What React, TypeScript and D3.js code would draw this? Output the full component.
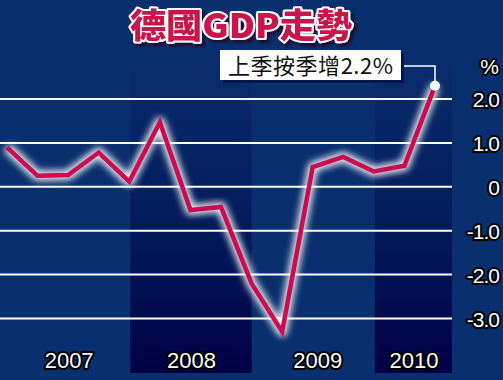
import React from "react";
import * as d3 from "d3";

const quarters = ["2006Q4","2007Q1","2007Q2","2007Q3","2007Q4","2008Q1","2008Q2","2008Q3","2008Q4","2009Q1","2009Q2","2009Q3","2009Q4","2010Q1","2010Q2"];
const growth = [0.9, 0.25, 0.27, 0.78, 0.12, 1.47, -0.53, -0.46, -2.2, -3.3, 0.45, 0.68, 0.35, 0.48, 2.3];
const years = ["2007", "2008", "2009", "2010"];
const yearStart = ["2006Q4", "2007Q4", "2008Q4", "2009Q4"];
const yearEnd = ["2007Q4", "2008Q4", "2009Q4", null];
const shadedYears = ["2008", "2010"];
const yTicks = [2, 1, 0, -1, -2, -3];
const yTickLabels = ["2.0", "1.0", "0", "-1.0", "-2.0", "-3.0"];
const title = "德國GDP走勢";
const note = "上季按季增2.2%";

const W = 503, H = 380;
const plotRight = 452;

export default function App() {
  const x = d3.scalePoint<string>().domain(quarters).range([7, 435]);
  const y = d3.scaleLinear().domain([-3, 2]).range([318.5, 99]);
  const line = d3.line<number>().x((_, i) => x(quarters[i])!).y((d) => y(d));
  const path = line(growth) || "";
  const lastX = x(quarters[quarters.length - 1])!;
  const lastY = y(growth[growth.length - 1]);
  const outline = { paintOrder: "stroke" as const, stroke: "#000", strokeWidth: 4, strokeLinejoin: "round" as const };

  return (
    <svg width={W} height={H} style={{ position: "absolute", left: 0, top: 0 }} fontFamily="'Liberation Sans', Arial, sans-serif">
      <defs>
        <linearGradient id="band" x1="0" y1="0" x2="0" y2="1">
          <stop offset="0" stopColor="#0b2d6c" />
          <stop offset="0.55" stopColor="#021a5a" />
          <stop offset="1" stopColor="#000044" />
        </linearGradient>
        <filter id="glow" x="-10%" y="-10%" width="120%" height="120%">
          <feGaussianBlur stdDeviation="3.5" />
        </filter>
        <filter id="titleShadow" x="-10%" y="-20%" width="130%" height="150%">
          <feDropShadow dx="3" dy="3" stdDeviation="0.8" floodColor="#1a0a30" floodOpacity="1" />
        </filter>
      </defs>
      <rect width={W} height={H} fill="#0a2f6e" />
      {years.map((yr, i) => {
        if (!shadedYears.includes(yr)) return null;
        const x0 = x(yearStart[i])! + 1;
        const x1 = yearEnd[i] ? x(yearEnd[i]!)! : plotRight;
        return <rect key={yr} x={x0} y={58} width={x1 - x0} height={373 - 58} fill="url(#band)" />;
      })}
      {yTicks.map((t) => (
        <line key={t} x1={0} x2={plotRight} y1={y(t)} y2={y(t)} stroke="#fff" strokeWidth={2} />
      ))}
      {yTicks.map((t, i) => (
        <text key={t} x={499} y={y(t) + 8} textAnchor="end" fontSize={21} fill="#fff" letterSpacing={-1} style={outline}>
          {yTickLabels[i]}
        </text>
      ))}
      <text x={499} y={74} textAnchor="end" fontSize={21} fill="#fff" style={outline}>%</text>
      {years.map((yr, i) => {
        const x0 = x(yearStart[i])!;
        const x1 = yearEnd[i] ? x(yearEnd[i]!)! : plotRight;
        return (
          <text key={yr} x={(x0 + x1) / 2 + (i === 2 ? 5 : 1)} y={368} textAnchor="middle" fontSize={22} fill="#fff" style={outline}>
            {yr}
          </text>
        );
      })}
      <path d={path} fill="none" stroke="#fff" strokeWidth={10} strokeLinejoin="round" opacity={0.95} filter="url(#glow)" />
      <path d={path} fill="none" stroke="#cc0c4e" strokeWidth={4.5} strokeLinejoin="miter" />
      <polyline points={`401,66 ${lastX},66 ${lastX},${lastY}`} fill="none" stroke="#fff" strokeWidth={1.5} />
      <circle cx={lastX} cy={lastY} r={5} fill="#fff" />
      <rect x={223} y={53} width={181} height={30} fill="#021550" />
      <rect x={220} y={50} width={181} height={30} fill="#fff" />
      <text x={228} y={74} fontSize={22} fill="#111" textLength={165} fontFamily="'Noto Sans CJK TC', 'Noto Sans', sans-serif">
        {note}
      </text>
      <g filter="url(#titleShadow)">
        <text x={130} y={38} fontSize={34} fontWeight={900} fill="#c8124e" textLength={222} lengthAdjust="spacingAndGlyphs" style={{ paintOrder: "stroke", stroke: "#fff", strokeWidth: 4, strokeLinejoin: "round" }} fontFamily="'Noto Sans CJK TC', sans-serif">
          {title}
        </text>
      </g>
    </svg>
  );
}
